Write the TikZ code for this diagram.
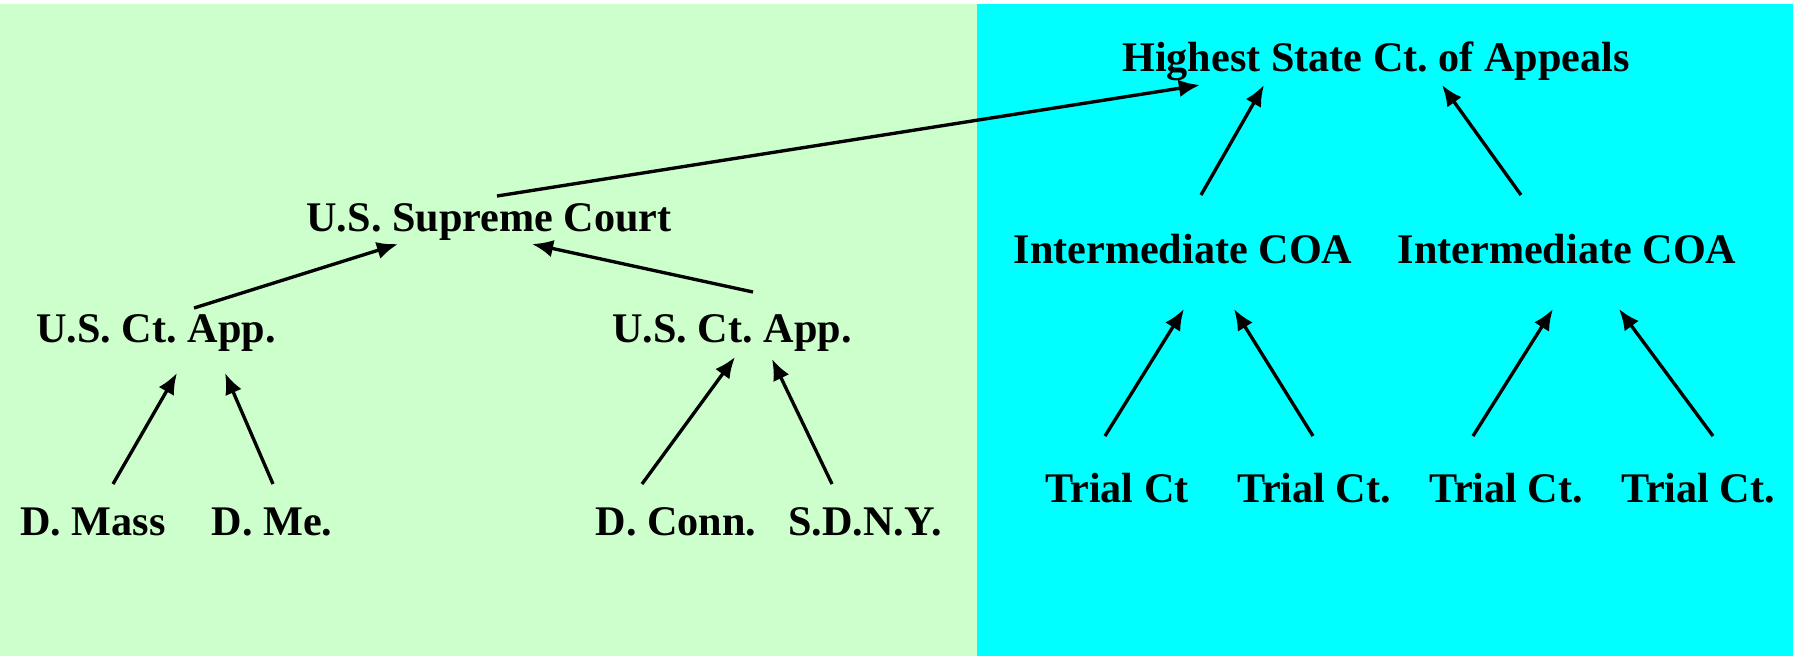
\documentclass[tikz,border=0pt]{standalone}
\usepackage{fontspec}
\setmainfont{Liberation Serif}
\usetikzlibrary{positioning,arrows.meta,calc}
\definecolor{fedgreen}{HTML}{CCFFCC}
\definecolor{statecyan}{HTML}{00FFFF}
\begin{document}
\begin{tikzpicture}[x=0.01cm,y=-0.01cm,
  court/.style={anchor=base,inner sep=0pt,font=\fontsize{12}{14}\selectfont\bfseries\frenchspacing},
  up/.style={line width=0.95pt,-{Latex[length=6pt,width=5pt]}}]
  \useasboundingbox (0,0) rectangle (1796,656);
  \fill[fedgreen] (0,4) rectangle (977,656);
  \fill[statecyan] (977,4) rectangle (1793,656);
  % federal side
  \node[court] (supreme) at (489,231) {U.S. Supreme Court};
  \node[court] (appl) at (156,342) {U.S. Ct. App.};
  \node[court] (appr) at (732,342) {U.S. Ct. App.};
  \node[court] (mass) at (93,535) {D. Mass};
  \node[court] (maine) at (272,535) {D. Me.};
  \node[court] (conn) at (676,535) {D. Conn.};
  \node[court] (sdny) at (865,535) {S.D.N.Y.};
  % state side
  \node[court] (highest) at (1376,71) {Highest State Ct. of Appeals};
  \node[court] (intl) at (1183,263) {Intermediate COA};
  \node[court] (intr) at (1567,263) {Intermediate COA};
  \node[court] (triala) at (1117,502) {Trial Ct};
  \node[court] (trialb) at (1314,502) {Trial Ct.};
  \node[court] (trialc) at (1506,502) {Trial Ct.};
  \node[court] (triald) at (1698,502) {Trial Ct.};
  % appeals
  \draw[up] ($(supreme.base)+(8,-35)$) -- ($(highest.base)+(-176,14)$);
  \draw[up] ($(appl.base)+(38,-34)$) -- ($(supreme.base)+(-91,13)$);
  \draw[up] ($(appr.base)+(21,-50)$) -- ($(supreme.base)+(43,13)$);
  \draw[up] ($(mass.base)+(20,-51)$) -- ($(appl.base)+(21,31)$);
  \draw[up] ($(maine.base)+(1,-51)$) -- ($(appl.base)+(69,31)$);
  \draw[up] ($(conn.base)+(-34,-51)$) -- ($(appr.base)+(3,15)$);
  \draw[up] ($(sdny.base)+(-33,-51)$) -- ($(appr.base)+(40,17)$);
  \draw[up] ($(intl.base)+(18,-68)$) -- ($(highest.base)+(-112,14)$);
  \draw[up] ($(intr.base)+(-46,-68)$) -- ($(highest.base)+(66,14)$);
  \draw[up] ($(triala.base)+(-12,-66)$) -- ($(intl.base)+(1,46)$);
  \draw[up] ($(trialb.base)+(-1,-66)$) -- ($(intl.base)+(51,46)$);
  \draw[up] ($(trialc.base)+(-33,-66)$) -- ($(intr.base)+(-14,46)$);
  \draw[up] ($(triald.base)+(15,-66)$) -- ($(intr.base)+(52,46)$);
\end{tikzpicture}
\end{document}
